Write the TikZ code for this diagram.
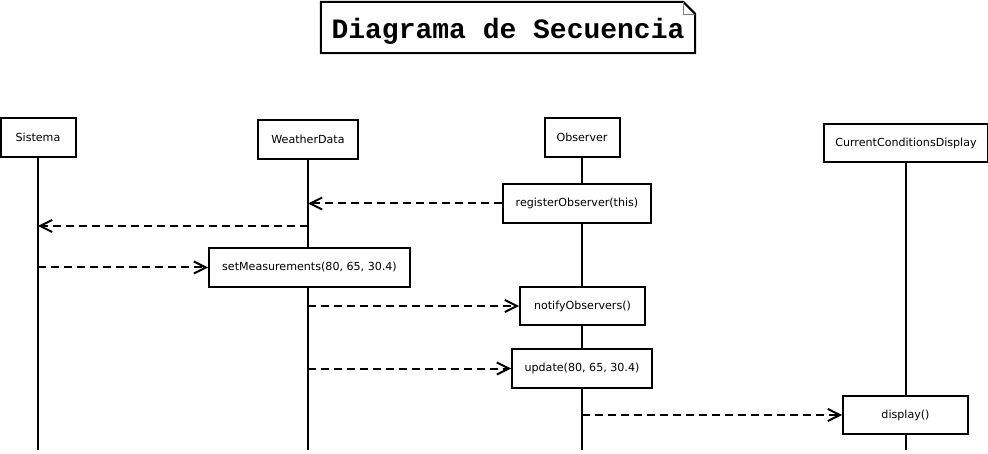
\documentclass[tikz,border=0pt]{standalone}
\usepackage{fontspec}
\setmainfont{DejaVu Sans}
\newfontfamily\titlefont{Liberation Mono}
\usetikzlibrary{arrows.meta,positioning}

\begin{document}
\begin{tikzpicture}[x=1pt, y=-1pt, >={Straight Barb[length=12pt,width=12pt]},
  obj/.style={draw, line width=2pt, fill=white, minimum height=39pt, inner sep=2pt, font=\fontsize{11.1}{13}\selectfont},
  life/.style={line width=2pt},
  msg/.style={->, line width=2pt, dash pattern=on 8pt off 5pt}]
  \useasboundingbox (0,0) rectangle (988,454);
  % title note
  \node[minimum width=374pt, minimum height=51pt, label={[font=\titlefont\bfseries\fontsize{28}{30}\selectfont, yshift=-3.5pt]center:Diagrama de Secuencia}] (title) at (508,27.5) {};
  \draw[line width=2pt] (title.south west) -- (title.north west) -- ([xshift=-12pt]title.north east) -- ([yshift=-12pt]title.north east) -- (title.south east) -- cycle;
  \draw[gray, thin] ([xshift=-12pt]title.north east) |- ([yshift=-12pt]title.north east);
  % objects
  \node[obj, minimum width=75pt] (sis) at (38,137.5) {Sistema};
  \node[obj, minimum width=100pt] (wd) at (308,139.5) {WeatherData};
  \node[obj, minimum width=75pt] (obs) at (582,137.5) {Observer};
  \node[obj, minimum width=164pt, minimum height=38pt] (ccd) at (906,143) {CurrentConditionsDisplay};
  % lifelines
  \draw[life] (sis.south) -- (sis |- 0,450);
  \draw[life] (wd.south) -- (wd |- 0,450);
  \draw[life] (obs.south) -- (obs |- 0,450);
  \draw[life] (ccd.south) -- (ccd |- 0,450);
  % calls
  \node[obj, minimum width=148pt] (reg) at (577,203.5) {registerObserver(this)};
  \node[obj, minimum width=201pt] (setm) at (309.5,267.5) {setMeasurements(80, 65, 30.4)};
  \node[obj, minimum width=125pt, minimum height=38pt] (notif) at (582.5,306) {notifyObservers()};
  \node[obj, minimum width=140pt] (upd) at (582,368.5) {update(80, 65, 30.4)};
  \node[obj, minimum width=125pt, minimum height=38pt] (disp) at (905.5,415) {display()};
  % messages
  \draw[msg] (reg.west) -- (reg.west -| wd);
  \draw[msg] (wd |- 0,226) -- (sis |- 0,226);
  \draw[msg] (sis |- setm.west) -- (setm.west);
  \draw[msg] (wd |- notif.west) -- (notif.west);
  \draw[msg] (wd |- upd.west) -- (upd.west);
  \draw[msg] (obs |- disp.west) -- (disp.west);
\end{tikzpicture}
\end{document}
